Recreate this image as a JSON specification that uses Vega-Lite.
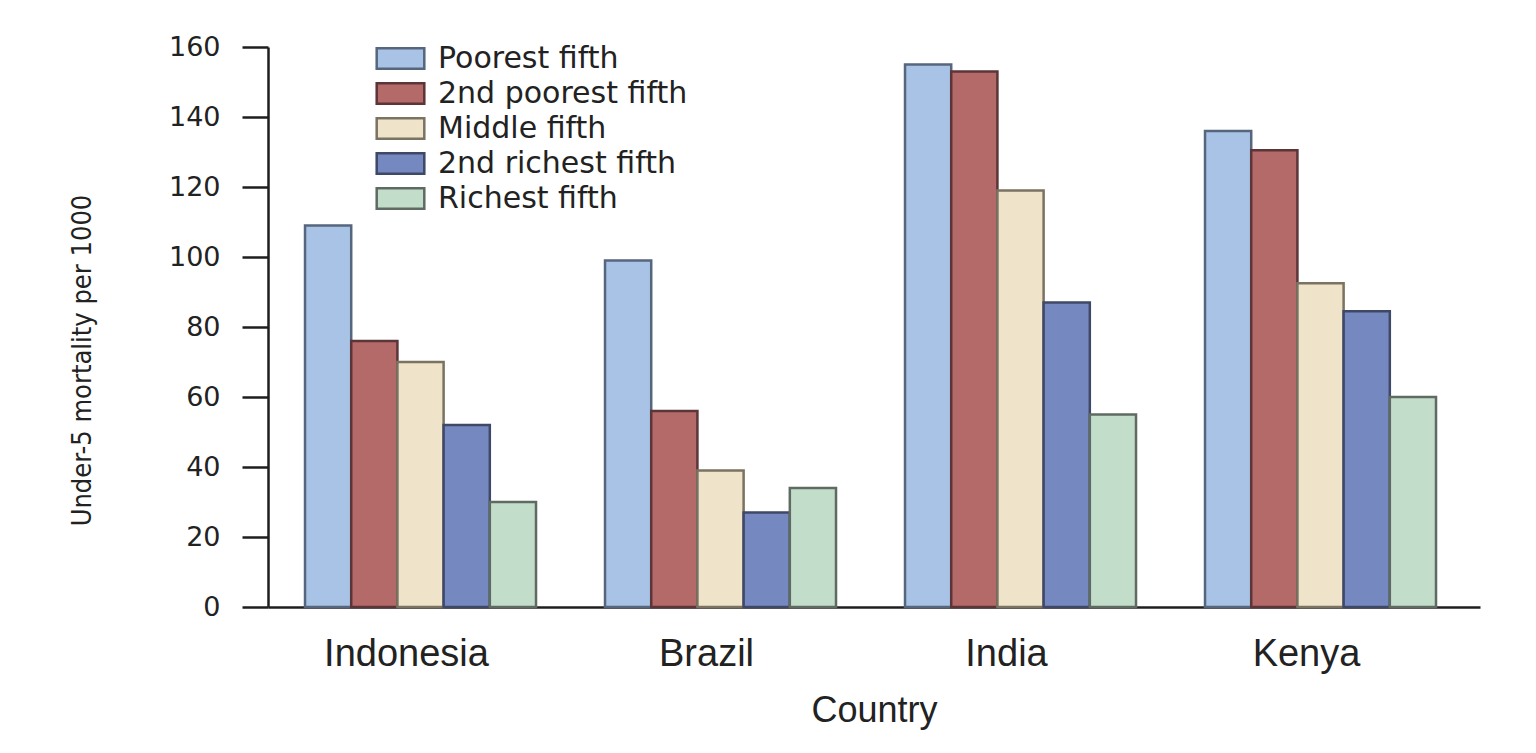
{
  "$schema": "https://vega.github.io/schema/vega-lite/v6.json",
  "autosize": {"type": "none"},
  "padding": {"left": 268, "top": 47, "right": 56, "bottom": 146},
  "width": 1212,
  "height": 560,
  "background": "white",
  "data": {
    "values": [
      {"country": "Indonesia", "group": "Poorest fifth", "value": 109},
      {"country": "Indonesia", "group": "2nd poorest fifth", "value": 76},
      {"country": "Indonesia", "group": "Middle fifth", "value": 70},
      {"country": "Indonesia", "group": "2nd richest fifth", "value": 52},
      {"country": "Indonesia", "group": "Richest fifth", "value": 30},
      {"country": "Brazil", "group": "Poorest fifth", "value": 99},
      {"country": "Brazil", "group": "2nd poorest fifth", "value": 56},
      {"country": "Brazil", "group": "Middle fifth", "value": 39},
      {"country": "Brazil", "group": "2nd richest fifth", "value": 27},
      {"country": "Brazil", "group": "Richest fifth", "value": 34},
      {"country": "India", "group": "Poorest fifth", "value": 155},
      {"country": "India", "group": "2nd poorest fifth", "value": 153},
      {"country": "India", "group": "Middle fifth", "value": 119},
      {"country": "India", "group": "2nd richest fifth", "value": 87},
      {"country": "India", "group": "Richest fifth", "value": 55},
      {"country": "Kenya", "group": "Poorest fifth", "value": 136},
      {"country": "Kenya", "group": "2nd poorest fifth", "value": 130.5},
      {"country": "Kenya", "group": "Middle fifth", "value": 92.5},
      {"country": "Kenya", "group": "2nd richest fifth", "value": 84.5},
      {"country": "Kenya", "group": "Richest fifth", "value": 60}
    ]
  },
  "mark": {"type": "bar", "strokeWidth": 2.5},
  "encoding": {
    "x": {
      "field": "country",
      "type": "nominal",
      "sort": ["Indonesia", "Brazil", "India", "Kenya"],
      "scale": {"paddingInner": 0.23, "paddingOuter": 0.135, "align": 0.457},
      "axis": {
        "title": "Country",
        "labelAngle": 0,
        "ticks": false,
        "domainColor": "#1e1e1e",
        "domainWidth": 2.5,
        "labelFont": "Liberation Sans",
        "labelFontSize": 38,
        "labelColor": "#222222",
        "labelPadding": 28,
        "labelOffset": -14,
        "titleFont": "Liberation Sans",
        "titleFontSize": 36,
        "titleFontWeight": "normal",
        "titleColor": "#222222",
        "titlePadding": 20
      }
    },
    "xOffset": {
      "field": "group",
      "type": "nominal",
      "sort": ["Poorest fifth", "2nd poorest fifth", "Middle fifth", "2nd richest fifth", "Richest fifth"],
      "scale": {"paddingInner": 0, "paddingOuter": 0}
    },
    "y": {
      "field": "value",
      "type": "quantitative",
      "scale": {"domain": [0, 160], "nice": false},
      "axis": {
        "title": "Under-5 mortality per 1000",
        "values": [0, 20, 40, 60, 80, 100, 120, 140, 160],
        "grid": false,
        "domainColor": "#1e1e1e",
        "domainWidth": 2.5,
        "tickColor": "#1e1e1e",
        "tickWidth": 2.5,
        "tickSize": 26,
        "labelPadding": 22,
        "labelFont": "DejaVu Sans",
        "labelFontSize": 27,
        "labelColor": "#222222",
        "titleFont": "DejaVu Sans Condensed, Roboto Condensed, Roboto, sans-serif",
        "titleFontSize": 27,
        "titleFontWeight": "normal",
        "titleColor": "#222222",
        "titleX": -172,
        "titleY": 313,
        "titleAngle": -90,
        "titleAlign": "center",
        "titleBaseline": "bottom"
      }
    },
    "fill": {
      "field": "group",
      "type": "nominal",
      "sort": ["Poorest fifth", "2nd poorest fifth", "Middle fifth", "2nd richest fifth", "Richest fifth"],
      "scale": {"range": ["#A9C3E6", "#B46A69", "#EFE3C9", "#7688C0", "#C3DDCB"]},
      "legend": {
        "orient": "none",
        "legendX": 114,
        "legendY": -7,
        "title": null,
        "symbolType": "M-1.4,-0.6H1.4V0.6H-1.4Z",
        "symbolSize": 1156,
        "symbolStrokeWidth": 2.5,
        "symbolOpacity": 1,
        "labelFont": "DejaVu Sans",
        "labelFontSize": 30,
        "labelColor": "#222222",
        "labelOffset": 19,
        "labelLimit": 400,
        "rowPadding": 1,
        "encode": {
          "symbols": {"update": {"stroke": {"scale": "stroke", "field": "value"}}}
        }
      }
    },
    "stroke": {
      "field": "group",
      "type": "nominal",
      "sort": ["Poorest fifth", "2nd poorest fifth", "Middle fifth", "2nd richest fifth", "Richest fifth"],
      "scale": {"range": ["#55667D", "#5B3538", "#7A7362", "#3F4866", "#5F6B62"]},
      "legend": null
    }
  },
  "config": {
    "view": {"stroke": null}
  }
}
